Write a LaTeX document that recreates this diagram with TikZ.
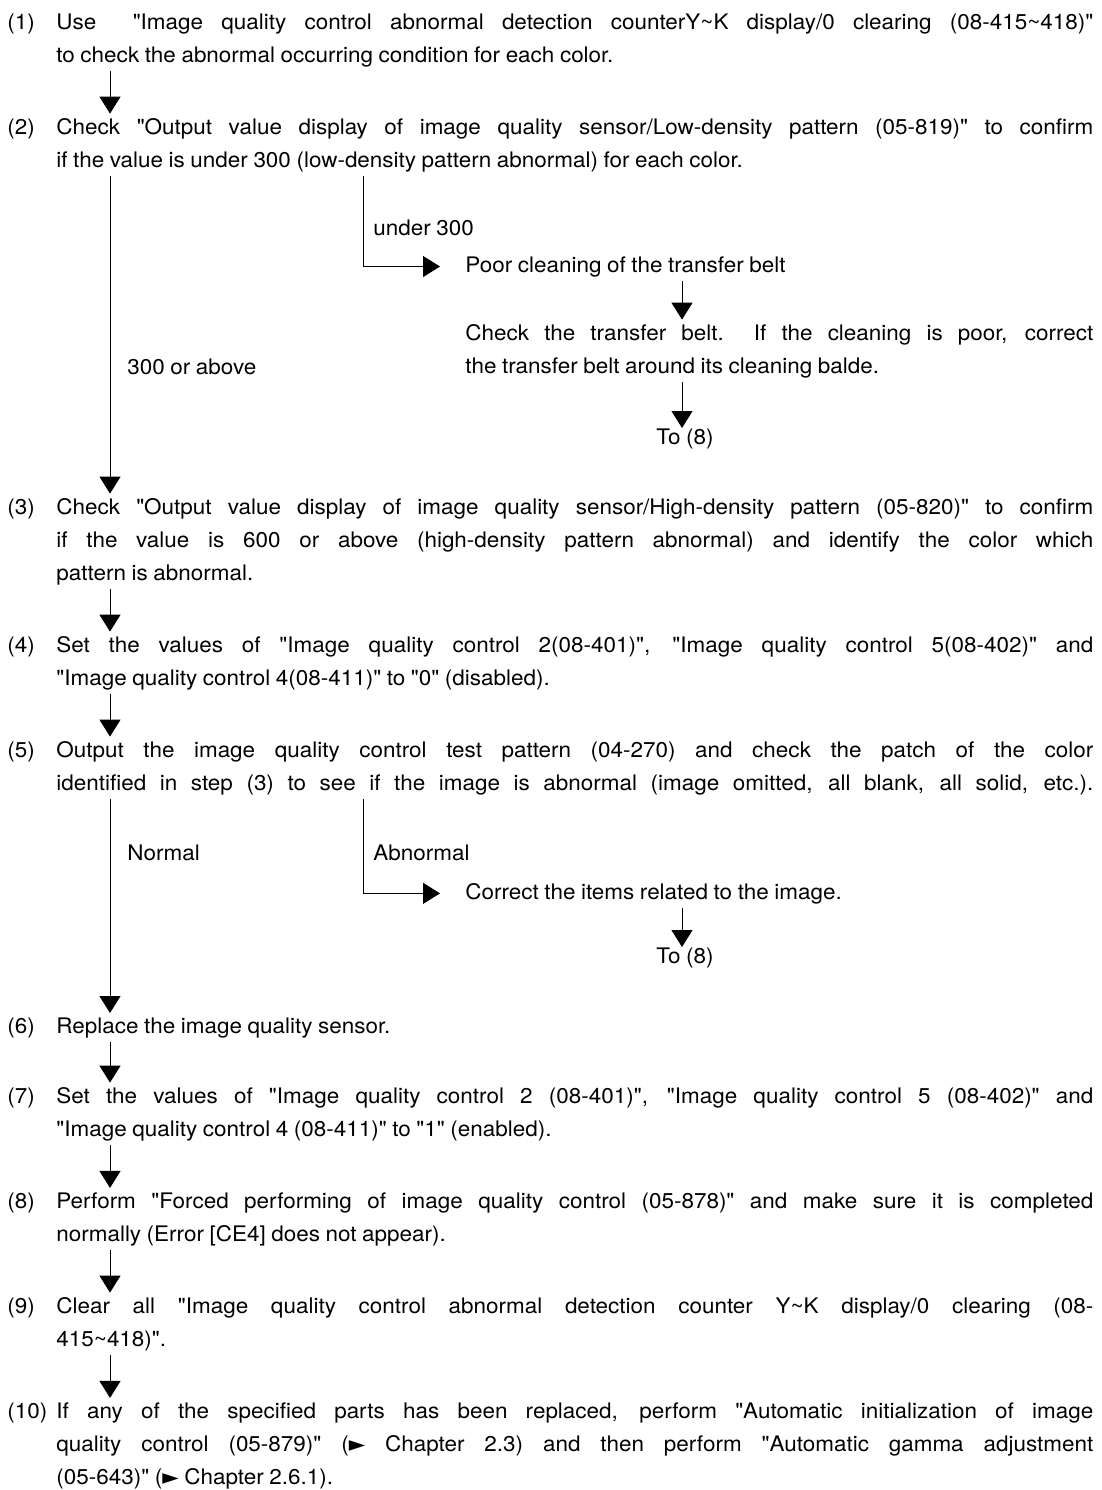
\documentclass[tikz,border=0pt]{standalone}
\usepackage{fontspec}
\setmainfont{TeX Gyre Heros}[Ligatures=TeXOff, FakeStretch=1.05]
\newfontfamily\symfont{DejaVu Sans}
\usetikzlibrary{arrows.meta,positioning,calc}

\newcommand{\stepfont}{\fontsize{10.7pt}{16.5pt}\selectfont
  \tolerance=9999\hyphenpenalty=10000\spaceskip=0.26em plus 0.6em minus 0.12em\relax}
\newcommand{\pointer}{{\symfont\char"25BA}}
\newcommand{\tld}{\textasciitilde}
\newcommand{\fullline}[1]{\makebox[\linewidth][s]{#1}}

\tikzset{
  stepbox/.style={anchor=base west, inner xsep=0pt, inner ysep=2pt,
    text width=518.5pt, align=justify, font=\stepfont},
  sidebox/.style={stepbox, text width=314pt},
  numlabel/.style={anchor=base west, inner sep=0pt, font=\stepfont},
  branchlabel/.style={anchor=base west, inner sep=0pt, font=\stepfont},
  flow/.style={-{Triangle[width=10.5pt,length=8.5pt]}, line width=0.5pt},
}

\begin{document}
\begin{tikzpicture}[x=0.5pt, y=-0.5pt]
    \useasboundingbox (0,0) rectangle (1102,1490);

    % Columns of the connectors
    \coordinate (spine) at (110,0);
    \coordinate (fork) at (363,0);
    \coordinate (side) at (682,0);

    % Steps
    \node[numlabel] (n1) at (7,29) {(1)};
    \node[stepbox] (s1) at (56,29) {Use\ \ "Image quality control abnormal detection counterY\tld K display/0 clearing (08-415\tld 418)"\linebreak to check the abnormal occurring condition for each color.};

    \node[numlabel] (n2) at (7,134) {(2)};
    \node[stepbox] (s2) at (56,134) {Check "Output value display of image quality sensor/Low-density pattern (05-819)" to confirm\linebreak if the value is under 300 (low-density pattern abnormal) for each color.};

    \node[numlabel] (n3) at (7,514) {(3)};
    \node[stepbox] (s3) at (56,514) {Check "Output value display of image quality sensor/High-density pattern (05-820)" to confirm\linebreak if the value is 600 or above (high-density pattern abnormal) and identify the color which\linebreak pattern is abnormal.};

    \node[numlabel] (n4) at (7,652) {(4)};
    \node[stepbox] (s4) at (56,652) {Set the values of "Image quality control 2(08-401)", "Image quality control 5(08-402)" and\linebreak "Image quality control 4(08-411)" to "0" (disabled).};

    \node[numlabel] (n5) at (7,757) {(5)};
    \node[stepbox] (s5) at (56,757) {Output the image quality control test pattern (04-270) and check the patch of the color\linebreak \fullline{identified in step (3) to see if the image is abnormal (image omitted, all blank, all solid, etc.).}};

    \node[numlabel] (n6) at (7,1033) {(6)};
    \node[stepbox] (s6) at (56,1033) {Replace the image quality sensor.};

    \node[numlabel] (n7) at (7,1103) {(7)};
    \node[stepbox] (s7) at (56,1103) {Set the values of "Image quality control 2 (08-401)", "Image quality control 5 (08-402)" and\linebreak "Image quality control 4 (08-411)" to "1" (enabled).};

    \node[numlabel] (n8) at (7,1208) {(8)};
    \node[stepbox] (s8) at (56,1208) {Perform "Forced performing of image quality control (05-878)" and make sure it is completed\linebreak normally (Error [CE4] does not appear).};

    \node[numlabel] (n9) at (7,1313) {(9)};
    \node[stepbox] (s9) at (56,1313) {Clear all "Image quality control abnormal detection counter Y\tld K display/0 clearing (08-\linebreak 415\tld 418)".};

    \node[numlabel] (n10) at (7,1418) {(10)};
    \node[stepbox] (s10) at (56,1418) {If any of the specified parts has been replaced, perform "Automatic initialization of image\linebreak quality control (05-879)" (\pointer\ Chapter 2.3) and then perform "Automatic gamma adjustment\linebreak (05-643)" (\pointer\ Chapter 2.6.1).};

    % Side branch after (2)
    \node[branchlabel] (lo) at (373,235) {under 300};
    \node[branchlabel] (hi) at (127,374) {300 or above};
    \node[sidebox] (pc) at (465,272) {Poor cleaning of the transfer belt};
    \node[sidebox] (ck) at (465,340) {Check the transfer belt.\ \ If the cleaning is poor, correct\linebreak the transfer belt around its cleaning balde.};
    \node[branchlabel] (to1) at (656,444) {To (8)};

    % Side branch after (5)
    \node[branchlabel] (ok) at (127,860) {Normal};
    \node[branchlabel] (ng) at (373,860) {Abnormal};
    \node[sidebox] (co) at (465,899) {Correct the items related to the image.};
    \node[branchlabel] (to2) at (656,963) {To (8)};

    % Main flow
    \draw[flow] (s1.south -| spine) -- (s2.north -| spine);
    \draw[flow] (s2.south -| spine) -- (s3.north -| spine);
    \draw[flow] (s3.south -| spine) -- (s4.north -| spine);
    \draw[flow] (s4.south -| spine) -- (s5.north -| spine);
    \draw[flow] (s5.south -| spine) -- (s6.north -| spine);
    \draw[flow] (s6.south -| spine) -- (s7.north -| spine);
    \draw[flow] (s7.south -| spine) -- (s8.north -| spine);
    \draw[flow] (s8.south -| spine) -- (s9.north -| spine);
    \draw[flow] (s9.south -| spine) -- (s10.north -| spine);

    % Branches
    \draw[flow] (s2.south -| fork) |- ([xshift=-12.5pt]pc.west);
    \draw[flow] (pc.south -| side) -- (ck.north -| side);
    \draw[flow] (ck.south -| side) -- (to1.north -| side);
    \draw[flow] (s5.south -| fork) |- ([xshift=-12.5pt]co.west);
    \draw[flow] (co.south -| side) -- (to2.north -| side);
\end{tikzpicture}
\end{document}
